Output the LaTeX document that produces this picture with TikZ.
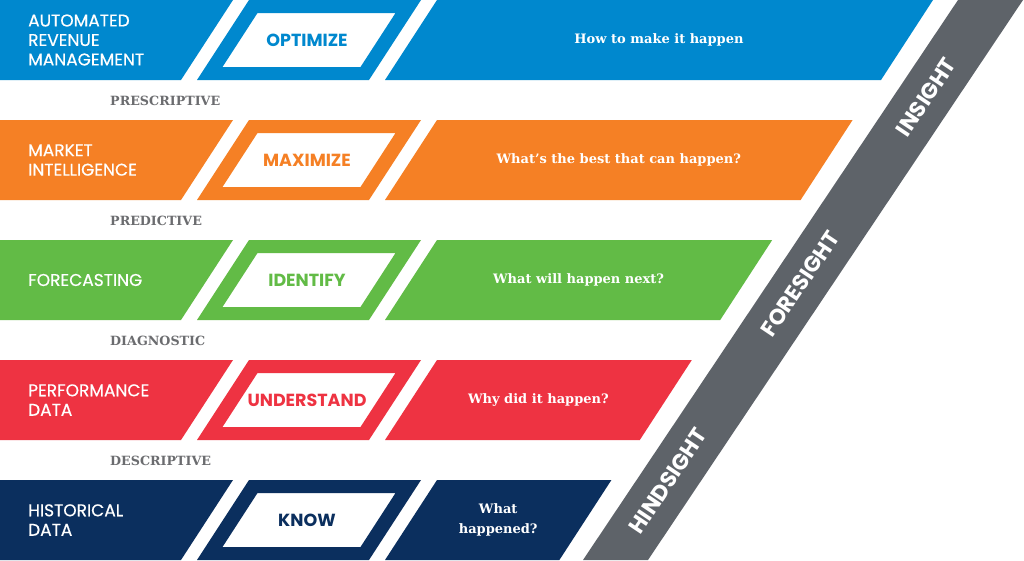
\documentclass[tikz,border=0pt]{standalone}
\usepackage{fontspec}
\newfontfamily\gsans[FakeBold=0.5]{Poppins}
\newfontfamily\gsansb{Poppins}
\newfontfamily\gslab{DejaVu Serif}
\definecolor{cblue}{HTML}{0088CE}
\definecolor{corange}{HTML}{F58025}
\definecolor{cgreen}{HTML}{62BB46}
\definecolor{cred}{HTML}{EE3342}
\definecolor{cnavy}{HTML}{0B2F5E}
\definecolor{cbar}{HTML}{5E6369}
\definecolor{clbl}{HTML}{6B6C6F}
\tikzset{
  lbl/.style={inner sep=0, anchor=west, align=left, text=white, font=\gsans\fontsize{17}{19.5}\selectfont},
  mid/.style={inner sep=0, font=\gsansb\bfseries\fontsize{17.5}{19}\selectfont},
  rt/.style={inner sep=0, align=center, text=white, font=\gslab\bfseries\fontsize{13}{20}\selectfont},
  cat/.style={inner sep=0, anchor=west, text=clbl, font=\gslab\bfseries\fontsize{12.7}{14}\selectfont},
  bartxt/.style={inner sep=0, text=white, rotate=56.2, font=\gsansb\bfseries\fontsize{22}{24}\selectfont}
}
\begin{document}
\begin{tikzpicture}[x=1pt,y=-1pt]
\useasboundingbox (0,0) rectangle (1024,560);
\fill[white] (0,0) rectangle (1024,560);
\foreach \k/\col/\ltxt/\mtxt/\rtxt in {
  0/cblue/{AUTOMATED\\REVENUE\\MANAGEMENT}/OPTIMIZE/{How to make it happen},
  1/corange/{MARKET\\INTELLIGENCE}/MAXIMIZE/{What’s the best that can happen?},
  2/cgreen/{FORECASTING}/IDENTIFY/{What will happen next?},
  3/cred/{PERFORMANCE\\DATA}/UNDERSTAND/{Why did it happen?},
  4/cnavy/{HISTORICAL\\DATA}/KNOW/{What\\happened?}}{
  \pgfmathsetmacro\yt{120*\k}
  \pgfmathsetmacro\yb{120*\k+80}
  \pgfmathsetmacro\E{933-80.4*\k}
  \pgfmathsetmacro\xc{192.5+\E/2}
  \fill[\col] (0,\yt) -- (233,\yt) -- (181,\yb) -- (0,\yb) -- cycle;
  \fill[\col,even odd rule] (249,\yt) -- (421,\yt) -- (369,\yb) -- (197,\yb) -- cycle
     (257.5,\yt+13) -- (395.5,\yt+13) -- (360.5,\yt+67) -- (222.5,\yt+67) -- cycle;
  \fill[\col] (437,\yt) -- (\E,\yt) -- (\E-52,\yb) -- (385,\yb) -- cycle;
  \node[lbl] (L\k) at (28,\yt+40) {\ltxt};
  \node[mid, text=\col] (M\k) at (307,\yt+40) {\mtxt};
  \node[rt] (R\k) at (\xc,\yt+40) {\rtxt};
}
\node[cat] (c1) at (110,101) {PRESCRIPTIVE};
\node[cat] (c2) at (110,221) {PREDICTIVE};
\node[cat] (c3) at (110,341) {DIAGNOSTIC};
\node[cat] (c4) at (110,461) {DESCRIPTIVE};
\fill[cbar] (583,560) -- (648,560) -- (1023,0) -- (958,0) -- cycle;
\node[bartxt] (insight) at (926,97) {INSIGHT};
\node[bartxt] (foresight) at (800,284) {FORESIGHT};
\node[bartxt] (hindsight) at (668,481) {HINDSIGHT};
\end{tikzpicture}
\end{document}
